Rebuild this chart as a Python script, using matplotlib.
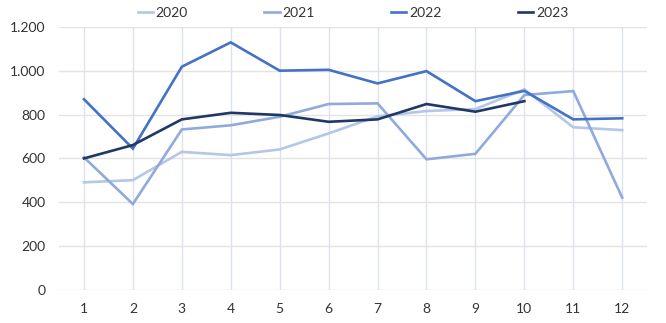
import numpy as np
import matplotlib.pyplot as plt
from matplotlib.ticker import FuncFormatter

plt.rcParams['font.family'] = ['Lato', 'DejaVu Sans']

# monthly values per year
months = np.arange(1, 13)
v2020 = [491, 501, 630, 615, 641, 714, 792, 816, 825, 915, 742, 729]
v2021 = [605, 392, 732, 751, 790, 848, 851, 596, 621, 889, 907, 421]
v2022 = [870, 645, 1018, 1129, 1000, 1004, 942, 998, 861, 908, 778, 783]
v2023 = [600, 661, 778, 808, 798, 767, 778, 848, 813, 861]

years = ['2020', '2021', '2022', '2023']
series = [v2020, v2021, v2022, v2023]
colors = ['#b4c7e7', '#8faadc', '#4472c4', '#203864']

fig = plt.figure(figsize=(6.66, 3.23), dpi=100)
ax = fig.add_axes([0.0893, 0.102, 0.8817, 0.815])

for name, vals, c in zip(years, series, colors):
    ax.plot(months[:len(vals)], vals, color=c, lw=1.9, label=name,
            solid_joinstyle='miter')

ax.set_xlim(0.5, 12.5)
ax.set_ylim(0, 1200)
ax.set_xticks(months)
ax.set_yticks(range(0, 1201, 200))
ax.yaxis.set_major_formatter(FuncFormatter(lambda v, p: f'{int(v):,}'.replace(',', '.')))

ax.grid(axis='y', color='#e3e3e3', lw=1.0)
ax.grid(axis='x', color='#dde2ee', lw=1.0)
ax.set_axisbelow(True)
for s in ax.spines.values():
    s.set_visible(False)
ax.tick_params(length=0, labelsize=10, colors='#333333')
ax.tick_params(axis='y', pad=10)
ax.tick_params(axis='x', pad=9)

fig.legend(loc='upper center', bbox_to_anchor=(0.53, 1.017), ncol=4, frameon=False,
           fontsize=10, handlelength=1.1, handletextpad=0.2, columnspacing=5.5,
           labelcolor='#333333')

fig.savefig('out.png', dpi=100)
